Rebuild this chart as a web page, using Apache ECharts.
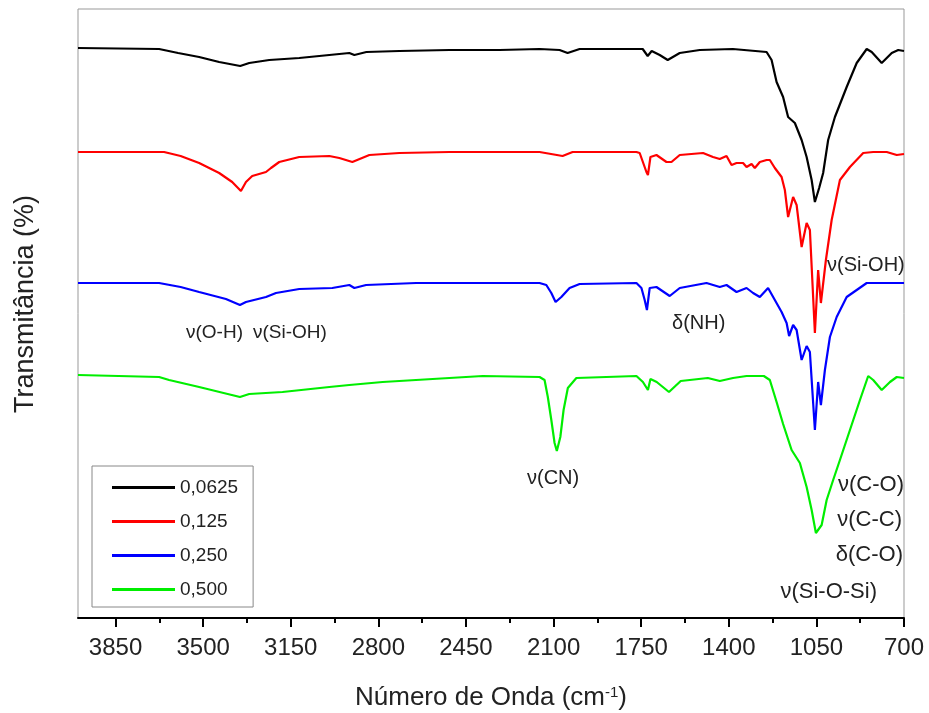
<!DOCTYPE html>
<html>
<head>
<meta charset="utf-8">
<script src="https://cdn.jsdelivr.net/npm/echarts@6/dist/echarts.min.js"></script>
<style>
  html, body { margin: 0; padding: 0; background: #fff; }
  #chart { width: 929px; height: 713px; }
</style>
</head>
<body>
<div id="chart"></div>
<script>
// tick labels of the wavenumber axis
const majorTicks = [700, 1050, 1400, 1750, 2100, 2450, 2800, 3150, 3500, 3850];
const minorTicks = [875, 1225, 1575, 1925, 2275, 2625, 2975, 3325, 3675];

const seriesNames = ['0,0625', '0,125', '0,250', '0,500'];

// transmittance (offset, arbitrary units)
const wnBlack = [4000, 3676, 3600, 3516, 3436, 3352, 3316, 3236, 3116, 2996, 2916, 2896, 2848, 2716, 2516, 2316, 2156, 2076, 2044, 1996, 1916, 1744, 1724, 1708, 1676, 1644, 1596, 1516, 1384, 1249, 1229, 1209, 1183, 1163, 1136, 1109, 1089, 1069, 1056, 1039, 1023, 1003, 976, 929, 889, 849, 829, 789, 749, 723, 700];
const tBlack = [570, 569, 565, 561, 556, 552, 555, 558, 560, 563, 565, 563, 566, 567, 568, 568, 569, 568, 565, 569, 569, 569, 562, 567, 563, 558, 565, 568, 569, 566, 558, 536, 521, 501, 495, 478, 461, 438, 416, 430, 445, 478, 501, 531, 555, 569, 566, 555, 565, 568, 567];

const wnRed = [4000, 3656, 3590, 3516, 3436, 3384, 3349, 3329, 3304, 3249, 3229, 3196, 3116, 2996, 2956, 2904, 2836, 2716, 2516, 2156, 2064, 2024, 1769, 1756, 1729, 1723, 1713, 1689, 1649, 1629, 1596, 1503, 1463, 1436, 1409, 1389, 1369, 1343, 1329, 1309, 1296, 1276, 1249, 1236, 1216, 1189, 1176, 1163, 1143, 1129, 1109, 1089, 1076, 1056, 1043, 1032, 1012, 989, 956, 916, 863, 823, 769, 729, 700];
const tRed = [466, 466, 462, 455, 445, 436, 427, 436, 442, 446, 450, 456, 461, 462, 460, 456, 463, 465, 466, 466, 462, 466, 466, 465, 446, 443, 461, 463, 456, 456, 463, 465, 461, 459, 462, 453, 455, 455, 451, 454, 450, 456, 458, 458, 450, 441, 428, 401, 421, 413, 371, 395, 388, 285, 348, 315, 358, 398, 438, 451, 465, 466, 466, 463, 464];

const wnBlue = [4000, 3676, 3590, 3516, 3409, 3353, 3329, 3249, 3209, 3116, 2984, 2916, 2896, 2849, 2649, 2383, 2156, 2129, 2109, 2092, 2069, 2036, 1996, 1769, 1749, 1736, 1727, 1716, 1689, 1636, 1596, 1489, 1436, 1409, 1369, 1329, 1303, 1276, 1243, 1216, 1189, 1169, 1159, 1143, 1129, 1109, 1089, 1076, 1056, 1043, 1032, 1016, 996, 969, 929, 889, 849, 796, 743, 700];
const tBlue = [335, 335, 331, 326, 319, 313, 316, 321, 325, 329, 330, 333, 330, 333, 335, 335, 335, 333, 325, 316, 321, 330, 334, 335, 330, 318, 308, 330, 331, 322, 330, 335, 331, 333, 326, 330, 325, 321, 330, 318, 306, 295, 282, 293, 288, 258, 272, 266, 188, 236, 213, 248, 281, 301, 321, 328, 335, 335, 335, 335];

const wnGreen = [4000, 3676, 3636, 3516, 3353, 3316, 3183, 2996, 2916, 2783, 2583, 2383, 2156, 2136, 2123, 2109, 2096, 2087, 2073, 2060, 2043, 2009, 1769, 1743, 1723, 1713, 1688, 1639, 1592, 1484, 1436, 1383, 1329, 1260, 1236, 1209, 1183, 1149, 1116, 1089, 1069, 1052, 1029, 1009, 983, 956, 916, 876, 843, 823, 789, 756, 729, 700];
const tGreen = [243, 241, 238, 231, 221, 224, 226, 231, 233, 236, 239, 242, 241, 238, 221, 198, 175, 167, 181, 208, 230, 240, 242, 236, 228, 239, 236, 226, 237, 240, 237, 240, 242, 242, 238, 216, 194, 168, 155, 131, 108, 85, 93, 118, 138, 158, 188, 218, 242, 238, 228, 236, 241, 240];

const FONT = 'Liberation Sans, Arial, sans-serif';
const colors = ['#000000', '#ff0000', '#0000ff', '#00ee00'];

const pairs = (xs, ys) => xs.map((x, i) => [x, ys[i]]);
const traces = [pairs(wnBlack, tBlack), pairs(wnRed, tRed), pairs(wnBlue, tBlue), pairs(wnGreen, tGreen)];

function note(text, x, y, size, align) {
  return {
    type: 'text', x: x, y: y, z: 100,
    style: {
      text: text, fill: '#222', font: size + 'px ' + FONT,
      textAlign: align || 'left', textVerticalAlign: 'middle'
    }
  };
}

const chart = echarts.init(document.getElementById('chart'));

const option = {
  animation: false,
  backgroundColor: '#fff',
  grid: {
    left: 78, right: 25, top: 9, bottom: 95,
    outerBoundsMode: 'none',
    show: true, borderColor: '#999', borderWidth: 1
  },
  legend: {
    data: seriesNames,
    orient: 'vertical',
    left: 92, top: 466,
    icon: 'rect',
    itemWidth: 63, itemHeight: 3, itemGap: 15,
    padding: [12, 15, 8, 20],
    borderColor: '#888', borderWidth: 1,
    textStyle: { fontFamily: FONT, fontSize: 19, color: '#222', lineHeight: 19 }
  },
  xAxis: [{
    type: 'value', min: 700, max: 4000, interval: 350, inverse: true,
    position: 'bottom',
    name: 'Número de Onda (cm{sup|-1})',
    nameLocation: 'middle', nameGap: 67,
    nameTextStyle: {
      fontFamily: FONT, fontSize: 26, color: '#222',
      rich: { sup: { fontFamily: FONT, fontSize: 15, color: '#222', verticalAlign: 'top' } }
    },
    axisLine: { show: true, lineStyle: { color: '#000', width: 2 } },
    axisTick: { show: true, inside: false, length: 9, customValues: majorTicks, lineStyle: { color: '#000', width: 2 } },
    axisLabel: {
      customValues: majorTicks, margin: 18,
      fontFamily: FONT, fontSize: 24, color: '#222',
      formatter: v => (majorTicks.indexOf(v) >= 0 ? String(v) : '')
    },
    splitLine: { show: false }
  }, {
    type: 'value', min: 700, max: 4000, interval: 175, inverse: true,
    position: 'bottom',
    axisLine: { show: false },
    axisTick: { show: true, inside: false, length: 5, customValues: minorTicks, lineStyle: { color: '#000', width: 2 } },
    axisLabel: { show: false },
    splitLine: { show: false }
  }],
  yAxis: {
    type: 'value', min: 0, max: 609,
    axisLine: { show: false }, axisTick: { show: false },
    axisLabel: { show: false }, splitLine: { show: false }
  },
  series: seriesNames.map((name, i) => ({
    name: name,
    type: 'line',
    data: traces[i],
    color: colors[i],
    symbol: 'none',
    lineStyle: { width: 2.2, color: colors[i] }
  })),
  graphic: [
    {
      type: 'text', x: 26, y: 304, rotation: Math.PI / 2,
      style: {
        text: 'Transmitância (%)', fill: '#222', font: '27px ' + FONT,
        textAlign: 'center', textVerticalAlign: 'middle'
      }
    },
    note('ν(O-H)', 186, 333, 19),
    note('ν(Si-OH)', 253, 333, 19),
    note('δ(NH)', 672, 323, 20),
    note('ν(CN)', 527, 478, 20),
    note('ν(Si-OH)', 827, 265, 20),
    note('ν(C-O)', 904, 485, 22, 'right'),
    note('ν(C-C)', 902, 520, 22, 'right'),
    note('δ(C-O)', 903, 555, 22, 'right'),
    note('ν(Si-O-Si)', 877, 592, 22, 'right')
  ]
};

chart.setOption(option);
</script>
</body>
</html>
